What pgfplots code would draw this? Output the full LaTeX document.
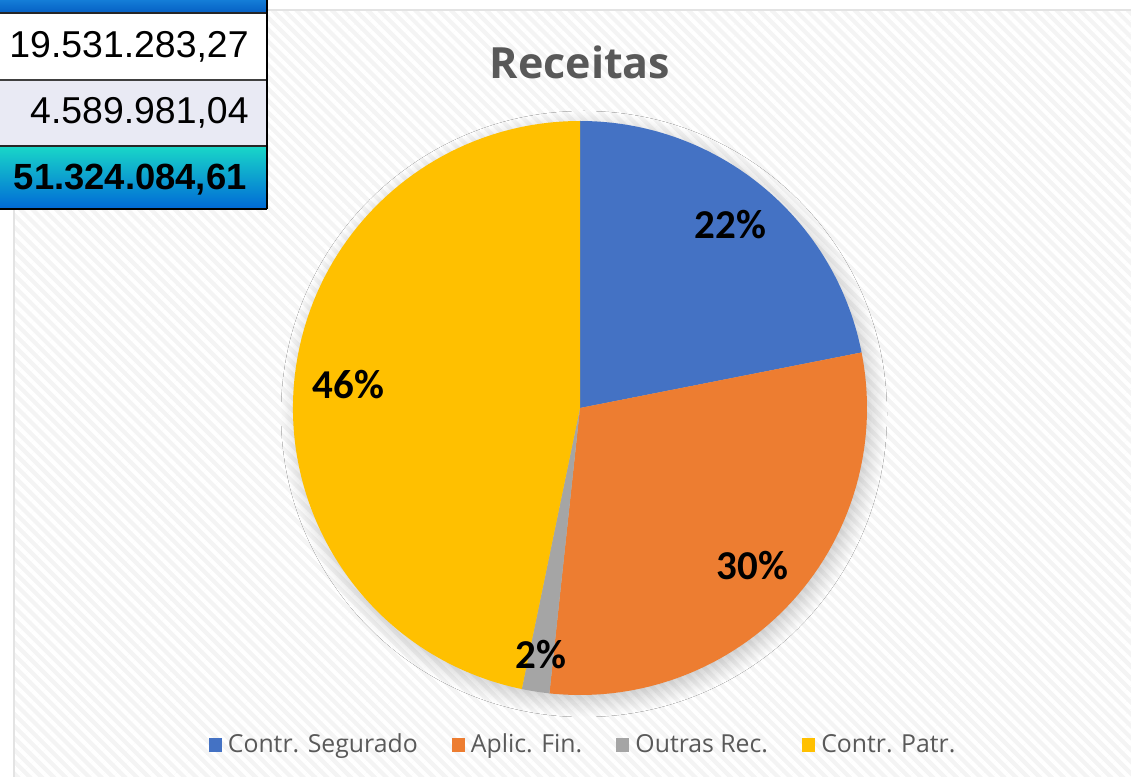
\documentclass[border=0pt]{standalone}
\usepackage{pgfplots}
\pgfplotsset{compat=1.18}
\usepackage{fontspec}
\setmainfont{Open Sans}
\newfontfamily\tabfont{Liberation Sans}
\newfontfamily\lblfont{Carlito}
\usetikzlibrary{patterns.meta,shadows.blur}

\definecolor{cblue}{HTML}{4472C4}
\definecolor{corange}{HTML}{ED7D31}
\definecolor{cgray}{HTML}{A5A5A5}
\definecolor{cyellow}{HTML}{FFC000}
\definecolor{ctext}{HTML}{595959}
\definecolor{lav}{HTML}{E9EAF4}

% shares (%)
\def\vA{21.9}  % Contr. Segurado
\def\vB{29.8}  % Aplic. Fin.
\def\vC{1.55}  % Outras Rec.
\def\vD{46.75} % Contr. Patr.
\pgfmathsetmacro\aA{90}
\pgfmathsetmacro\aB{\aA-3.6*\vA}
\pgfmathsetmacro\aC{\aB-3.6*\vB}
\pgfmathsetmacro\aD{\aC-3.6*\vC}
\pgfmathsetmacro\aE{\aD-3.6*\vD}
\pgfmathsetmacro\mA{(\aA+\aB)/2}
\pgfmathsetmacro\mB{(\aB+\aC)/2}
\pgfmathsetmacro\mC{(\aC+\aD)/2}
\pgfmathsetmacro\mD{(\aD+\aE)/2}

\pgfplotsset{sq legend/.style={legend image code/.code={\fill[##1, draw=none] (0pt,-3.3pt) rectangle (6.6pt,3.3pt);}}}

\begin{document}
\begin{tikzpicture}
\begin{axis}[
  x=0.5pt, y=0.5pt,
  xmin=-580, xmax=551, ymin=-369, ymax=408,
  hide axis,
  legend columns=4,
  legend style={at={(0.5164,0.0412)}, anchor=center, draw=none, fill=none,
    font=\fontsize{12.4}{14}\selectfont\color{ctext},
    /tikz/every odd column/.append style={column sep=1pt},
    /tikz/every even column/.append style={column sep=15pt}},
]
% page background
\fill[white] (axis cs:-580,-369) rectangle (axis cs:551,408);
% chart area
\fill[gray!9] (axis cs:-566,-369) rectangle (axis cs:551,398);
\fill[pattern={Lines[angle=-45,distance=4.2pt,line width=2pt]}, pattern color=white] (axis cs:-566,-369) rectangle (axis cs:551,398);
\draw[gray!22, line width=1pt] (axis cs:-566,-369) -- (axis cs:-566,398) -- (axis cs:551,398);

% table overlay
\shade[top color={rgb,255:red,20;green,125;blue,215}, bottom color={rgb,255:red,5;green,95;blue,195}] (axis cs:-580,408) rectangle (axis cs:-313,395);
\fill[white] (axis cs:-580,395) rectangle (axis cs:-313,328);
\fill[lav] (axis cs:-580,328) rectangle (axis cs:-313,262);
\shade[top color={rgb,255:red,25;green,215;blue,200}, middle color={rgb,255:red,15;green,175;blue,225}, bottom color={rgb,255:red,0;green,105;blue,215}] (axis cs:-580,262) rectangle (axis cs:-313,199);
\draw[black!85, line width=1.1pt] (axis cs:-580,395) -- (axis cs:-313,395);
\draw[black!75, line width=1pt] (axis cs:-580,328) -- (axis cs:-313,328);
\draw[black!85, line width=1.1pt] (axis cs:-580,262) -- (axis cs:-313,262);
\draw[black, line width=1.2pt] (axis cs:-580,199) -- (axis cs:-313,199);
\draw[black, line width=1.2pt] (axis cs:-313,408) -- (axis cs:-313,199);
\node[anchor=east, inner sep=0pt, font=\tabfont\fontsize{18.7}{21}\selectfont] at (axis cs:-331,361) {19.531.283,27};
\node[anchor=east, inner sep=0pt, font=\tabfont\fontsize{18.7}{21}\selectfont] at (axis cs:-331,295) {4.589.981,04};
\node[anchor=east, inner sep=0pt, font=\tabfont\bfseries\fontsize{18.2}{21}\selectfont] at (axis cs:-333,228) {51.324.084,61};

% title
\node[font=\bfseries\fontsize{21.5}{24}\selectfont, text=ctext] at (axis cs:0,346) {Receitas};

% pie shadow
\path[blur shadow={shadow xshift=2pt, shadow yshift=-3pt, shadow blur radius=8pt, shadow blur steps=14, shadow opacity=22}] (axis cs:0,0) circle[radius=143.5pt];
% slices
\fill[cblue] (axis cs:0,0) -- (axis cs:{287*cos(\aA)},{287*sin(\aA)}) arc[start angle=\aA, end angle=\aB, radius=143.5pt] -- cycle;
\fill[corange] (axis cs:0,0) -- (axis cs:{287*cos(\aB)},{287*sin(\aB)}) arc[start angle=\aB, end angle=\aC, radius=143.5pt] -- cycle;
\fill[cgray] (axis cs:0,0) -- (axis cs:{287*cos(\aC)},{287*sin(\aC)}) arc[start angle=\aC, end angle=\aD, radius=143.5pt] -- cycle;
\fill[cyellow] (axis cs:0,0) -- (axis cs:{287*cos(\aD)},{287*sin(\aD)}) arc[start angle=\aD, end angle=\aE, radius=143.5pt] -- cycle;

% data labels
\node[font=\lblfont\bfseries\fontsize{20.5}{24}\selectfont] at (axis cs:{237*cos(\mA)},{237*sin(\mA)}) {22\%};
\node[font=\lblfont\bfseries\fontsize{20.5}{24}\selectfont] at (axis cs:{234*cos(\mB)},{234*sin(\mB)}) {30\%};
\node[font=\lblfont\bfseries\fontsize{20.5}{24}\selectfont] at (axis cs:{250*cos(\mC)},{250*sin(\mC)}) {2\%};
\node[font=\lblfont\bfseries\fontsize{20.5}{24}\selectfont] at (axis cs:{233*cos(\mD)},{233*sin(\mD)}) {46\%};

\addlegendimage{sq legend, fill=cblue}
\addlegendentry{Contr. Segurado}
\addlegendimage{sq legend, fill=corange}
\addlegendentry{Aplic. Fin.}
\addlegendimage{sq legend, fill=cgray}
\addlegendentry{Outras Rec.}
\addlegendimage{sq legend, fill=cyellow}
\addlegendentry{Contr. Patr.}
\end{axis}
\end{tikzpicture}
\end{document}
